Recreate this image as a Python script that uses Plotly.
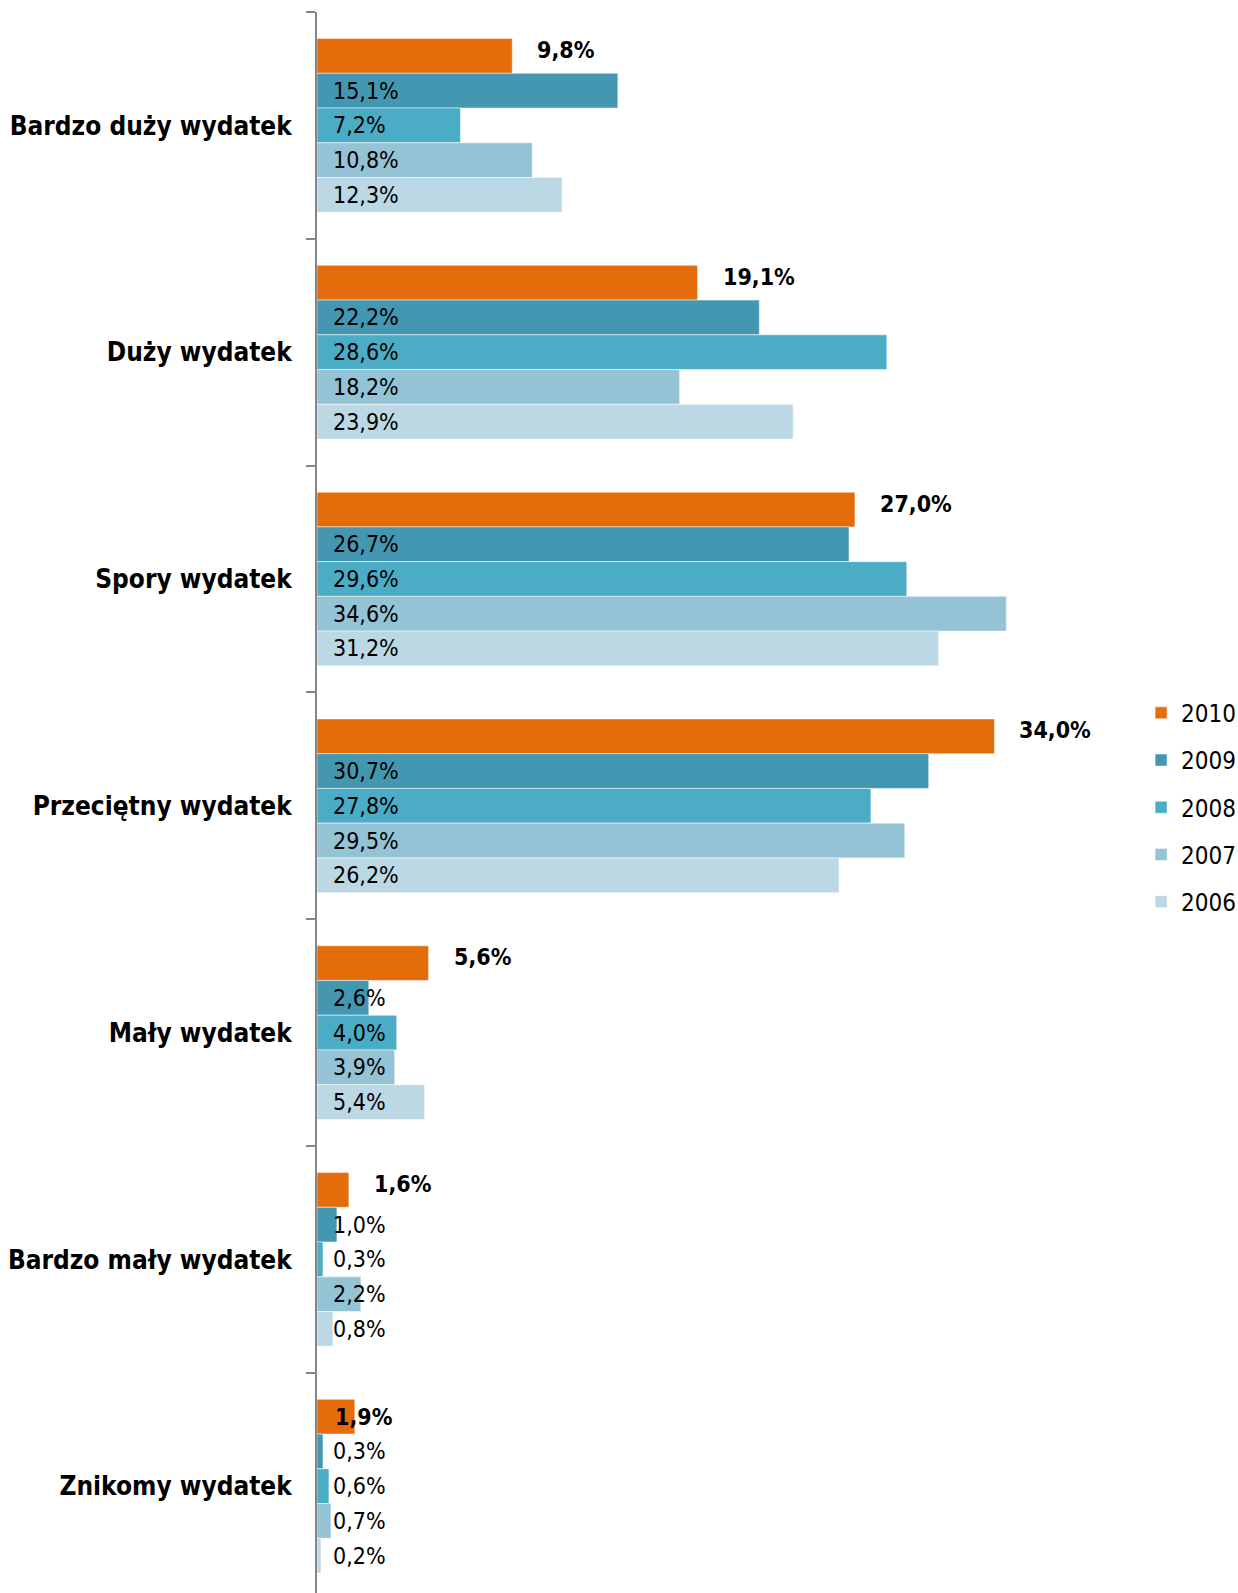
import plotly.graph_objects as go

categories = ["Bardzo duży wydatek", "Duży wydatek", "Spory wydatek", "Przeciętny wydatek",
              "Mały wydatek", "Bardzo mały wydatek", "Znikomy wydatek"]
years = ["2010", "2009", "2008", "2007", "2006"]
v2010 = [9.8, 19.1, 27.0, 34.0, 5.6, 1.6, 1.9]
v2009 = [15.1, 22.2, 26.7, 30.7, 2.6, 1.0, 0.3]
v2008 = [7.2, 28.6, 29.6, 27.8, 4.0, 0.3, 0.6]
v2007 = [10.8, 18.2, 34.6, 29.5, 3.9, 2.2, 0.7]
v2006 = [12.3, 23.9, 31.2, 26.2, 5.4, 0.8, 0.2]
series = [v2010, v2009, v2008, v2007, v2006]
colors = ["#E46C0A", "#4397B0", "#4BACC6", "#93C3D5", "#BCD8E4"]

# label placement tweak: the 2010 label for this category sits at the axis, as in the source
labels_at_axis = {"Znikomy wydatek"}

FONT = "DejaVu Sans Condensed"
BARGAP = 0.234
n = len(series)
bw = (1 - BARGAP) / n
ypos = list(range(len(categories)))

def fmt(v):
    return f"{v:.1f}".replace(".", ",") + "%"

fig = go.Figure()
for k, (yr, vals, col) in enumerate(zip(years, series, colors)):
    fig.add_trace(go.Bar(
        y=ypos, x=vals, orientation="h", name=yr, legendgroup=yr,
        marker=dict(color=col, line=dict(color="rgba(255,255,255,0.5)", width=1)),
        hoverinfo="skip",
    ))

annotations = []
for k, vals in enumerate(series):
    off = -(1 - BARGAP) / 2 + bw * (k + 0.5)
    for i, v in enumerate(vals):
        if k == 0:
            at_axis = categories[i] in labels_at_axis
            annotations.append(dict(
                x=0 if at_axis else v, y=i + off, xref="x", yref="y", text=fmt(v),
                showarrow=False, xanchor="left", yanchor="middle",
                xshift=16 if at_axis else 23, yshift=0 if at_axis else 6,
                font=dict(family=FONT, size=23, color="#000000", weight="bold")))
        else:
            annotations.append(dict(
                x=0, y=i + off, xref="x", yref="y", text=fmt(v), showarrow=False,
                xanchor="left", yanchor="middle", xshift=14,
                font=dict(family=FONT, size=23, color="#000000")))

plot_h = 1593 - 12
span = plot_h / 226.8

fig.update_layout(
    width=1238, height=1593,
    margin=dict(l=317, r=124, t=12, b=0, pad=0, autoexpand=False),
    paper_bgcolor="white", plot_bgcolor="white",
    barmode="group", bargap=BARGAP, bargroupgap=0,
    font=dict(family=FONT, color="#000000"),
    annotations=annotations,
    showlegend=True,
    legend=dict(x=1.034, y=0.497, xanchor="left", yanchor="middle",
                font=dict(family=FONT, size=24, color="#000000"),
                tracegroupgap=13, traceorder="grouped"),
    xaxis=dict(range=[0, 40], visible=False, showgrid=False, zeroline=False),
    yaxis=dict(
        range=[-0.5 + span, -0.5],
        tickmode="array", tickvals=ypos, ticktext=categories,
        tickfont=dict(family=FONT, size=26, color="#000000", weight="bold"),
        ticks="", ticklabelstandoff=18,
        showline=True, linecolor="#868686", linewidth=2,
        showgrid=False, zeroline=False,
        minor=dict(tickmode="array", tickvals=[i - 0.5 for i in range(len(categories) + 1)],
                   ticks="outside", ticklen=9, tickwidth=2, tickcolor="#868686", showgrid=False),
    ),
)

fig.write_html("out.html")
